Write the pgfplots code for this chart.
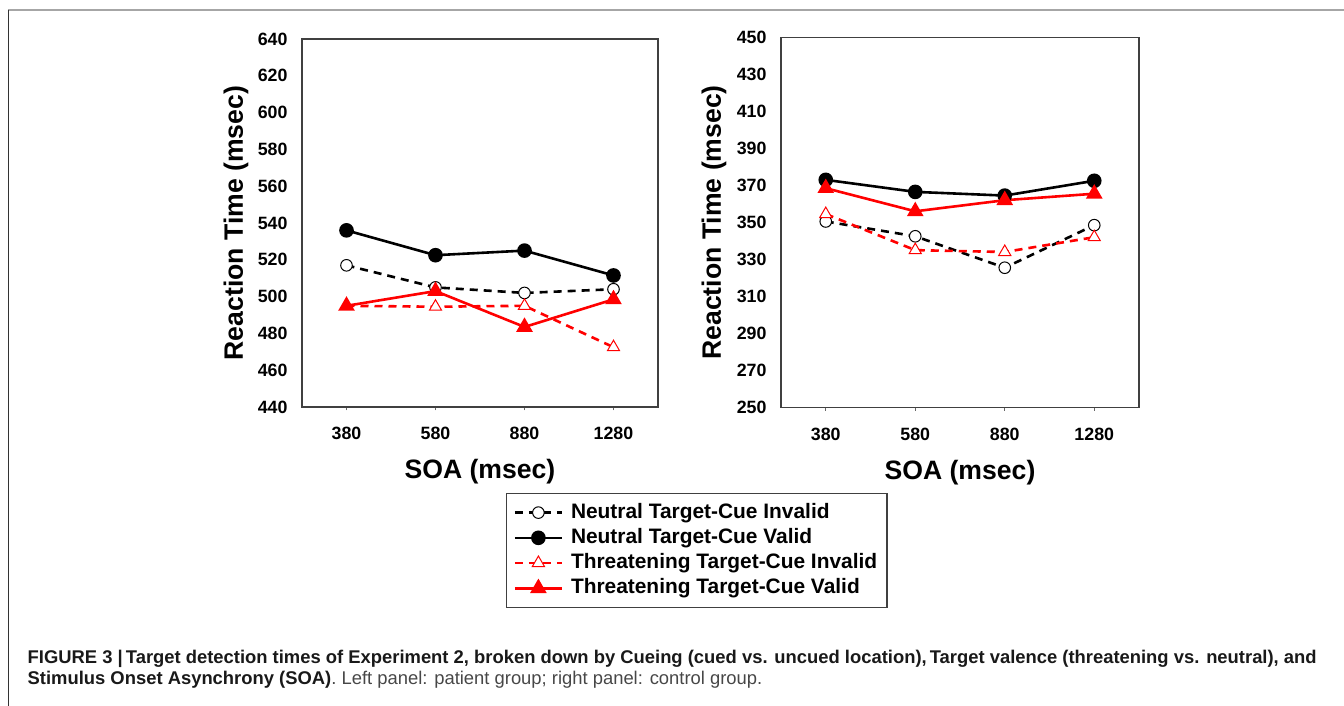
\documentclass[border=0pt]{standalone}
\usepackage{fontspec}
\setmainfont{Liberation Sans}
\usepackage{pgfplots}
\pgfplotsset{compat=1.18}

\definecolor{axisgray}{gray}{0.25}

\pgfplotsset{
  rtpanel/.style={
    scale only axis,
    xmin=-0.5, xmax=3.5,
    xtick={0,1,2,3},
    xticklabels={380,580,880,1280},
    xtick pos=bottom,
    tick align=outside,
    major tick length=1.7pt,
    xtick style={black!60, line width=0.6pt},
    ytick style={draw=none},
    axis line style={axisgray, line width=0.7pt},
    ticklabel style={font=\fontsize{8.9}{10}\selectfont\bfseries},
    /pgf/number format/assume math mode=true,
    xticklabel style={yshift=-5pt},
    yticklabel style={xshift=-2pt},
    xlabel={SOA (msec)},
    ylabel={Reaction Time (msec)},
    label style={font=\fontsize{13.3}{15}\selectfont\bfseries},
    xlabel style={at={(axis description cs:0.5,-0.1766)}, anchor=center},
    legend image code/.code={
      \draw[mark repeat=2, mark phase=2, #1]
        plot coordinates {(0pt,0pt) (11.75pt,0pt) (23.5pt,0pt)};
    },
  },
  nInv/.style={black, line width=1.3pt, dash pattern=on 4pt off 3pt,
    mark=*, mark size=2.9pt,
    mark options={solid, fill=white, draw=black, line width=0.5pt}},
  nVal/.style={black, line width=1.3pt, solid,
    mark=*, mark size=3pt, mark options={solid, fill=black}},
  tInv/.style={red, line width=1.3pt, dash pattern=on 4pt off 3pt,
    mark=triangle*, mark size=3.5pt,
    mark options={solid, fill=white, draw=red, line width=0.5pt}},
  tVal/.style={red, line width=1.3pt, solid,
    mark=triangle*, mark size=3.5pt, mark options={solid, fill=red}},
}

\begin{document}
\begin{tikzpicture}
\useasboundingbox (0,0) rectangle (672pt,-353pt);

% figure frame
\draw[gray!70, line width=1pt] (4pt,-5pt) -- (672pt,-5pt);
\draw[black!80, line width=0.6pt] (4.25pt,-5pt) -- (4.25pt,-353pt);

% left panel: patient group
\begin{axis}[rtpanel,
  at={(151pt,-203.5pt)}, anchor=south west,
  width=178pt, height=184pt,
  ymin=440, ymax=640, ytick={440,460,...,640},
  ylabel style={at={(axis description cs:-0.1854,0.5)}, anchor=center},
  legend style={at={(axis description cs:0.5725,-0.2337)}, anchor=north west,
    draw=axisgray, line width=0.6pt,
    font=\fontsize{10.45}{12}\selectfont\bfseries,
    cells={anchor=west}, row sep=0pt, column sep=2.6pt,
    inner xsep=3.6pt, inner ysep=3.2pt,
    nodes={inner sep=1.3pt, text height=7.7pt, text depth=2.3pt}},
]
\addplot[nInv] coordinates {(0,517) (1,505) (2,502) (3,504)};
\addplot[nVal] coordinates {(0,536) (1,522.5) (2,525) (3,511.5)};
\addplot[tInv] coordinates {(0,495) (1,494.5) (2,495) (3,472.5)};
\addplot[tVal] coordinates {(0,495) (1,503) (2,483.5) (3,498.5)};
\legend{Neutral Target-Cue Invalid, Neutral Target-Cue Valid,
  Threatening Target-Cue Invalid\hspace{4pt}, Threatening Target-Cue Valid}
\end{axis}

% right panel: control group
\begin{axis}[rtpanel,
  at={(390.5pt,-203.7pt)}, anchor=south west,
  width=179pt, height=185pt,
  ymin=250, ymax=450, ytick={250,270,...,450},
  ylabel style={at={(axis description cs:-0.187,0.5)}, anchor=center},
]
\addplot[nInv] coordinates {(0,350.5) (1,342.5) (2,325.5) (3,348.5)};
\addplot[nVal] coordinates {(0,373) (1,366.5) (2,364.5) (3,372.5)};
\addplot[tInv] coordinates {(0,354.5) (1,335) (2,334) (3,342)};
\addplot[tVal] coordinates {(0,368.5) (1,356) (2,362) (3,365.5)};
\end{axis}

% caption
\node[anchor=base west, inner sep=0pt, text=black!90,
  font=\fontsize{9.2}{10}\selectfont\bfseries] at (13.65pt,-331.5pt)
  {FIGURE 3 |\,Target detection times of Experiment 2, broken down by Cueing (cued vs. uncued location),\,Target valence (threatening vs. neutral), and};
\node[anchor=base west, inner sep=0pt, text=black!90,
  font=\fontsize{9.2}{10}\selectfont] at (13.65pt,-342pt)
  {\textbf{Stimulus Onset Asynchrony (SOA)}\textcolor{black!72}{. Left panel: patient group; right panel: control group.}};
\end{tikzpicture}
\end{document}
